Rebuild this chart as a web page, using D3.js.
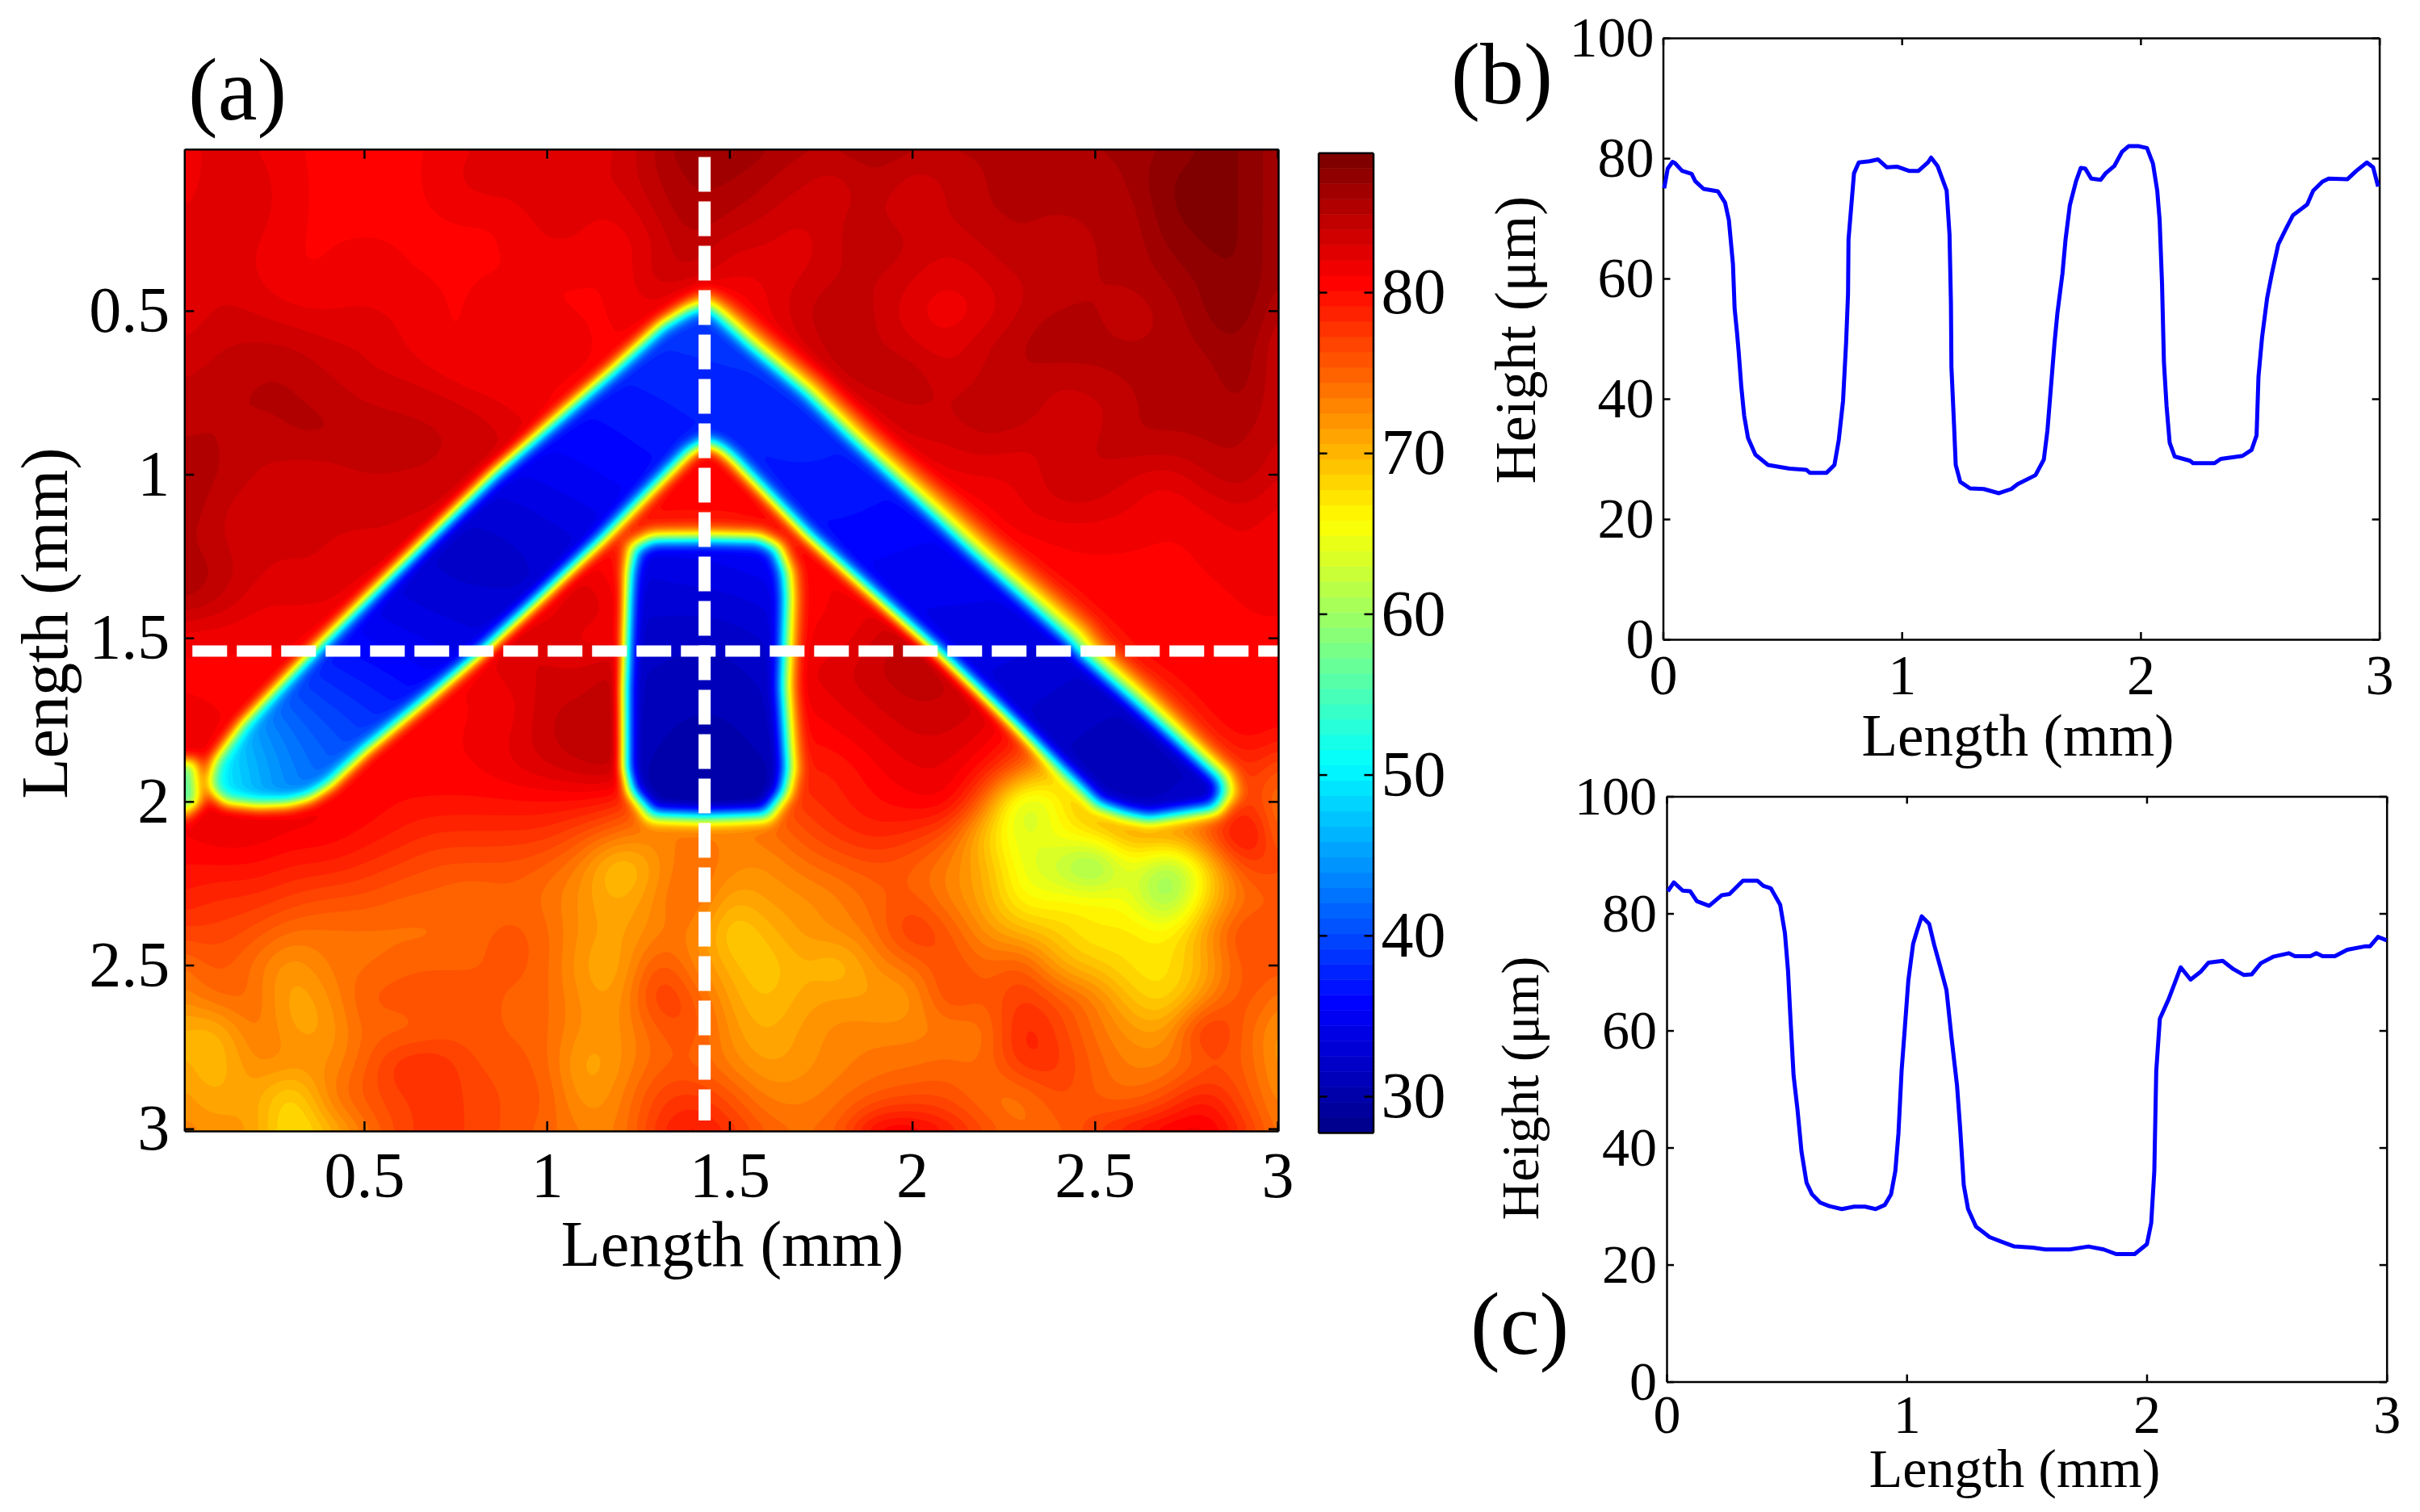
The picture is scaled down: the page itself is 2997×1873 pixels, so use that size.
<!DOCTYPE html>
<html>
<head>
<meta charset="utf-8">
<script src="https://cdn.jsdelivr.net/npm/d3@7"></script>
<style>
  body { margin: 0; background: #fff; }
  svg { display: block; font-family: "Liberation Serif", serif; }
  .axis text { fill: #000; }
  .axis line, .axis path { stroke: #000; stroke-width: 2.5px; }
</style>
</head>
<body>
<svg id="chart" width="2997" height="1873"></svg>
<script>
// HEIGHT MAP, top surface in um, rows y = 0..3 mm, columns x = 0..3 mm, 0.1 mm apart
var heightGrid = [
  [81,83,82,81,81,81,81,81,82,83, 82,82,83,85,87,87,86,85,85,86, 85,85,85,85,85,86,86,87,88,88,86],
  [81,83,83,81,81,81,81,81,83,83, 83,83,83,85,86,86,85,84,83,85, 83,84,85,85,85,85,86,88,88,88,86],
  [82,83,83,81,81,81,81,81,81,81, 83,82,82,84,86,85,84,83,84,84, 83,84,85,85,85,85,85,88,88,88,86],
  [83,83,82,81,81,81,81,81,81,81, 82,82,81,83,85,83,83,82,84,85, 84,83,84,85,84,85,85,87,88,88,86],
  [83,83,82,81,81,82,81,81,81,81, 81,81,81,84,84,82,82,83,84,84, 83,82,83,84,84,85,85,86,87,88,86],
  [82,83,83,82,82,82,82,81,81,82, 81,81,81,82,78,79,82,84,85,84, 82,81,82,84,85,85,84,85,87,88,85],
  [83,84,84,84,83,83,82,81,81,82, 82,81,81,81,80,80,81,83,85,84, 83,82,84,85,86,85,85,85,86,87,84],
  [84,84,85,85,84,83,83,82,81,81, 81,81,81,81,81,81,80,82,84,85, 85,83,84,85,84,85,85,85,85,87,84],
  [84,85,85,85,85,84,84,84,83,82, 81,81,81,81,81,81,81,80,82,83, 84,84,85,85,83,83,85,85,85,86,84],
  [85,85,84,85,85,85,84,84,84,83, 82,81,81,81,81,81,81,81,80,82, 83,83,84,83,83,84,85,85,85,85,84],
  [86,85,84,83,83,84,84,84,83,82, 81,81,81,81,81,81,81,81,81,80, 81,82,82,82,84,84,83,82,84,85,83],
  [86,84,83,83,83,83,83,83,82,82, 81,81,81,81,81,81,81,81,81,81, 79,80,81,82,83,83,82,81,82,83,82],
  [85,84,83,83,83,83,83,82,81,81, 81,81,80,77,77,77,80,81,81,81, 81,79,80,81,81,81,81,81,81,82,81],
  [86,85,83,83,83,82,82,81,81,81, 81,82,80,77,77,77,80,81,81,81, 81,81,79,79,81,81,81,81,81,82,82],
  [85,84,82,82,82,81,81,81,81,81, 81,84,81,81,81,81,81,81,81,82, 82,82,79,77,78,81,81,81,80,81,81],
  [81,81,81,81,81,81,81,81,81,83, 83,81,81,81,81,81,81,81,81,83, 85,83,80,77,75,78,81,81,81,81,81],
  [81,81,81,81,81,81,81,81,81,83, 83,83,85,81,81,81,81,82,83,84, 85,84,83,81,78,74,79,81,81,81,81],
  [81,81,81,81,81,81,81,81,81,81, 84,84,85,81,81,81,81,81,82,83, 84,84,83,82,78,73,70,78,81,81,81],
  [82,81,81,81,81,81,81,81,81,82, 84,85,85,81,81,81,81,80,81,82, 83,83,82,79,76,72,71,71,79,81,80],
  [82,81,81,81,81,81,81,81,81,82, 83,84,85,81,81,81,81,79,79,81, 82,82,80,76,68,71,73,71,72,79,76],
  [82,82,82,82,81,81,80,80,80,80, 80,80,79,74,72,72,75,78,79,80, 81,82,75,59,66,72,72,71,71,78,74],
  [81,82,82,81,81,80,79,78,78,78, 78,76,74,73,74,73,74,76,78,79, 78,76,68,63,66,68,72,73,76,84,75],
  [80,80,80,79,79,78,77,76,76,76, 75,73,67,72,75,73,72,74,75,76, 75,73,71,64,62,55,66,57,66,77,77],
  [79,78,78,77,76,76,75,75,74,75, 74,72,70,73,76,70,72,72,73,75, 76,73,71,65,66,67,65,57,68,74,75],
  [77,77,76,74,74,74,74,74,75,76, 75,72,71,73,74,67,70,72,73,74, 79,76,72,70,69,66,68,66,72,78,76],
  [74,76,74,71,74,74,75,75,75,76, 75,71,70,77,73,70,68,71,68,73, 74,77,74,77,70,69,67,67,70,76,76],
  [73,75,75,70,72,76,76,77,76,75, 75,72,71,79,76,71,69,71,72,71, 71,78,75,78,76,74,69,67,72,77,74],
  [70,69,75,71,71,75,74,75,76,75, 75,72,72,75,77,72,70,72,73,73, 73,73,73,80,77,74,72,71,81,75,72],
  [71,69,73,73,72,75,79,79,76,76, 75,70,72,75,75,73,71,72,73,74, 74,75,74,79,78,75,73,73,75,76,72],
  [72,70,72,66,74,76,77,78,77,76, 76,71,73,77,78,76,73,73,74,75, 76,76,74,73,77,75,74,76,80,76,73],
  [73,72,72,66,70,74,77,78,77,76, 75,73,73,78,80,78,75,74,75,81, 81,79,76,74,75,77,79,81,82,78,74]
];

// FLOOR of the etched patterns in um, x = 0..3 mm every 0.25, y = 0.5..2.25 mm every 0.25
var floorGrid = [
  [39,39,39,39,39,39,39,39,39,39,39,39,39],
  [39,39,39,39,36,37,38,38,37,37,37,37,37],
  [36,36,35,33,35,36,37,37.5,36.5,36,36,36,36],
  [35,34,33,31,32,34,35,36,35,35,35,35,35],
  [38,37,35,34,33,32,31,34,34,34,33,33,33],
  [55,42,39,36,33,31,30,33,33,33,31,31,31],
  [55,44,41,38,34,30,29,31,31,31,31,32,32],
  [55,44,41,38,34,30,29,31,31,31,31,32,32]
];

// OUTLINES of the patterns in mm, with the width of the outer slope at each point
var chevronEdge = [
  [1.434,.4815],[1.461,.50],[1.567,.608],[1.713,.745],[1.837,.883],[2.164,1.228],[2.435,1.504],
  [2.469,1.549],[2.80,1.885],[2.845,1.93],[2.855,1.97],[2.829,2.021],[2.648,2.052],[2.582,2.037],[2.509,2.008],
  [2.458,1.951],[2.084,1.556],[1.713,1.185],[1.505,.947],[1.47,.916],[1.434,.903],[1.392,.929],
  [1.251,1.086],[1.152,1.199],[.827,1.54],[.659,1.70],[.504,1.845],[.405,1.951],[.35,1.99],[.29,2.008],
  [.208,2.013],[.12,2.005],[.085,1.975],[.074,1.939],[.088,1.877],[.166,1.763],[.363,1.54],[.673,1.199],
  [.856,.998],[1.18,.683],[1.314,.5445],[1.39,.495]
];
var chevronSlope = [
  .07,.07,.09,.10,.10,.11,.11,
  .10,.07,.07,.07,.05,.04,.04,.04,
  .035,.035,.035,.04,.04,.04,.04,
  .04,.035,.03,.035,.035,.035,.035,.035,
  .035,.03,.03,.03,.03,.03,.035,.035,
  .035,.04,.04,.05
];
var windowEdge = [
  [1.225,1.30],[1.24,1.225],[1.29,1.197],[1.434,1.195],[1.58,1.197],[1.63,1.225],[1.655,1.30],[1.66,1.376],[1.65,1.65],[1.662,1.9],
  [1.65,1.97],[1.60,2.04],[1.434,2.045],[1.29,2.04],[1.23,1.97],[1.212,1.9],[1.211,1.65],[1.22,1.376]
];
var windowSlope = [.03,.05,.05,.05,.05,.05,.06,.06,.06,.06,.05,.05,.05,.05,.03,.018,.018,.018];
var notchEdge = [[-.02,1.87],[.04,1.88],[.05,2.0],[-.02,2.07]];
var notchSlope = [.03,.03,.03,.03];

// TICKS AND CUT LINES
var mapTicks = [0.5, 1, 1.5, 2, 2.5, 3];
var barTicks = [30, 40, 50, 60, 70, 80];
var profileXTicks = [0, 1, 2, 3];
var profileYTicks = [0, 20, 40, 60, 80, 100];
var cutX = 1.432;
var cutY = 1.54;

// PROFILES, [length mm, height um]
var profileB = [[.005,75],[.02,78.3],[.04,79.4],[.05,79.2],[.08,77.9],[.12,77.4],[.135,76.2],[.17,74.9],[.23,74.5],[.26,72.6],[.276,69.7],[.293,62.4],[.30,55],[.31,51],[.317,47.8],[.328,42],[.34,37.2],[.356,33.5],[.387,30.7],[.44,29],[.53,28.4],[.60,28.2],[.615,27.7],[.685,27.7],[.718,29],[.736,33.1],[.754,39.6],[.767,49.4],[.775,57.5],[.777,66.5],[.80,77.5],[.82,79.3],[.865,79.5],[.90,79.8],[.937,78.5],[.98,78.6],[1.03,77.9],[1.07,77.9],[1.11,79.3],[1.123,80.1],[1.15,78.7],[1.188,74.6],[1.20,67.3],[1.206,55.9],[1.208,45.3],[1.219,35.6],[1.226,29],[1.245,26.2],[1.286,25.1],[1.343,25],[1.407,24.3],[1.459,25],[1.485,25.8],[1.56,27.3],[1.595,29.9],[1.61,34.7],[1.63,44.5],[1.64,49.4],[1.652,54.3],[1.673,60.8],[1.686,66.5],[1.704,72.2],[1.73,76.2],[1.75,78.4],[1.768,78.3],[1.794,76.6],[1.833,76.4],[1.854,77.5],[1.89,78.7],[1.923,81.1],[1.95,82],[1.993,82],[2.027,81.7],[2.052,79.1],[2.07,74.6],[2.08,69.7],[2.09,59.2],[2.098,46.1],[2.109,38.8],[2.122,32.7],[2.143,30.4],[2.207,29.7],[2.22,29.3],[2.31,29.3],[2.336,30],[2.427,30.5],[2.465,31.5],[2.486,33.9],[2.494,43.7],[2.509,50.2],[2.53,56.7],[2.55,60.8],[2.577,65.7],[2.607,68.1],[2.638,70.5],[2.698,72.3],[2.723,74.6],[2.762,76.1],[2.788,76.6],[2.866,76.5],[2.904,77.9],[2.948,79.3],[2.974,78.5],[2.995,75.3]];
var profileC = [[.005,83.8],[.03,85.3],[.067,83.9],[.098,83.8],[.126,82.1],[.177,81.3],[.229,83.1],[.262,83.3],[.318,85.6],[.378,85.6],[.403,84.7],[.434,84.3],[.473,81.5],[.493,76.6],[.506,70.1],[.516,62],[.529,52.3],[.545,46.6],[.562,39.3],[.583,34],[.606,32],[.64,30.6],[.678,30],[.73,29.5],[.781,29.9],[.827,29.9],[.871,29.5],[.909,30.2],[.935,32],[.953,36],[.966,42.5],[.979,53.1],[.991,59.6],[1.007,68.5],[1.027,74.8],[1.043,77],[1.063,79.5],[1.094,78.2],[1.115,74.6],[1.14,70.9],[1.166,66.9],[1.187,58.8],[1.21,50.6],[1.223,43.3],[1.238,33.6],[1.256,29.5],[1.289,26.5],[1.346,24.7],[1.397,23.9],[1.449,23.1],[1.526,22.9],[1.577,22.6],[1.68,22.6],[1.757,23.1],[1.821,22.6],[1.873,21.8],[1.95,21.8],[2.001,23.5],[2.019,27.1],[2.032,36],[2.04,53.1],[2.055,62],[2.091,65.3],[2.117,68.1],[2.142,70.8],[2.183,68.7],[2.224,70],[2.258,71.6],[2.317,71.9],[2.361,70.5],[2.404,69.5],[2.438,69.6],[2.476,71.5],[2.527,72.6],[2.592,73.2],[2.618,72.7],[2.682,72.7],[2.707,73.2],[2.733,72.7],[2.784,72.7],[2.836,73.8],[2.913,74.4],[2.931,74.4],[2.964,76],[3,75.4]];

var svg = d3.select("#chart");

// draws the four sided matlab box with inward ticks
function drawBox(x, y, xTicks, yTicks, fontSize, padX, padY, tick) {
  var x0 = x.range()[0], x1 = x.range()[1], y0 = y.range()[0], y1 = y.range()[1];
  function add(axis, tx, ty) {
    svg.append("g").attr("class", "axis")
      .attr("transform", "translate(" + tx + "," + ty + ")")
      .call(axis)
      .attr("font-family", null)
      .attr("font-size", fontSize);
  }
  add(d3.axisBottom(x).tickValues(xTicks).tickSizeInner(-tick).tickSizeOuter(0).tickPadding(padY).tickFormat(d3.format("")), 0, y0);
  add(d3.axisTop(x).tickValues(xTicks).tickSizeInner(-tick).tickSizeOuter(0).tickFormat(""), 0, y1);
  add(d3.axisLeft(y).tickValues(yTicks).tickSizeInner(-tick).tickSizeOuter(0).tickPadding(padX).tickFormat(d3.format("")), x0, 0);
  add(d3.axisRight(y).tickValues(yTicks).tickSizeInner(-tick).tickSizeOuter(0).tickFormat(""), x1, 0);
}

function addText(str, tx, ty, size, anchor, rotate) {
  svg.append("text")
    .attr("transform", "translate(" + tx + "," + ty + ")" + (rotate ? " rotate(-90)" : ""))
    .attr("text-anchor", anchor || "start")
    .attr("font-size", size)
    .text(str);
}

// COLOUR SCALE, jet with 64 levels
var barMin = 27.74, barMax = 88.67;
var jet = d3.scaleLinear()
  .domain([0, .125, .375, .625, .875, 1])
  .range(["#00008f", "#0000ff", "#00ffff", "#ffff00", "#ff0000", "#800000"]);
var jetLevels = d3.range(64).map(function (i) { return jet(i / 63); });
var heatColor = d3.scaleQuantize().domain([barMin, barMax]).range(jetLevels);

// MAP
var mapX = d3.scaleLinear().domain([.008, 3.002]).range([228.3, 1583]);
var mapY = d3.scaleLinear().domain([3.007, .006]).range([1401, 184.7]);

var n = 300, m = 270;
var gridX = d3.scaleLinear().domain([0, n]).range(mapX.domain());
var gridY = d3.scaleLinear().domain([0, m]).range([mapY.domain()[1], mapY.domain()[0]]);

function sampleGrid(grid, tX, tY) {
  var rows = grid.map(d3.interpolateBasis);
  var out = new Float64Array(n * m);
  for (var i = 0; i < n; i++) {
    var col = d3.interpolateBasis(rows.map(function (f) { return f(tX(gridX(i + .5))); }));
    for (var j = 0; j < m; j++) out[i + j * n] = col(tY(gridY(j + .5)));
  }
  return out;
}

var topField = sampleGrid(heightGrid,
  d3.scaleLinear().domain([0, 3]).range([0, 1]).clamp(true),
  d3.scaleLinear().domain([0, 3]).range([0, 1]).clamp(true));
var floorField = sampleGrid(floorGrid,
  d3.scaleLinear().domain([0, 3]).range([0, 1]).clamp(true),
  d3.scaleLinear().domain([.5, 2.25]).range([0, 1]).clamp(true));

// nearest segment of an outline, returns distance in mm and slope width there
function nearestEdge(edge, slope, px, py) {
  var best = Infinity, bestW = 0;
  for (var k = 0; k < edge.length; k++) {
    var a = edge[k], b = edge[(k + 1) % edge.length];
    var dx = b[0] - a[0], dy = b[1] - a[1];
    var t = ((px - a[0]) * dx + (py - a[1]) * dy) / (dx * dx + dy * dy);
    t = t < 0 ? 0 : t > 1 ? 1 : t;
    var ex = a[0] + t * dx - px, ey = a[1] + t * dy - py;
    var dist = ex * ex + ey * ey;
    if (dist < best) {
      best = dist;
      bestW = slope[k] + t * (slope[(k + 1) % edge.length] - slope[k]);
    }
  }
  return [Math.sqrt(best), bestW];
}

// carve the patterns into the top surface
var inSlope = .04;
var heights = Float64Array.from(topField);
[[chevronEdge, chevronSlope], [windowEdge, windowSlope], [notchEdge, notchSlope]].forEach(function (shape) {
  for (var j = 0; j < m; j++) {
    for (var i = 0; i < n; i++) {
      var px = gridX(i + .5), py = gridY(j + .5);
      var near = nearestEdge(shape[0], shape[1], px, py);
      var inside = d3.polygonContains(shape[0], [px, py]);
      var s;
      if (inside) {
        s = near[0] >= inSlope ? 0 : .5 * Math.pow(1 - near[0] / inSlope, 2);
      } else {
        s = near[0] >= near[1] ? 1 : 1 - .5 * Math.pow(1 - near[0] / near[1], 2);
      }
      var idx = i + j * n;
      heights[idx] = floorField[idx] + (heights[idx] - floorField[idx]) * s;
    }
  }
});
// the scan is slightly soft, so round the carved corners off
if (d3.blur2) d3.blur2({data: heights, width: n, height: m}, 1);

var levelEdges = d3.range(1, 64).map(function (i) { return barMin + i * (barMax - barMin) / 64; });
var contours = d3.contours().size([n, m]).thresholds(levelEdges)(Array.from(heights));
var contourPath = d3.geoPath(d3.geoTransform({
  point: function (a, b) { this.stream.point(mapX(gridX(a)), mapY(gridY(b))); }
}));

svg.append("defs").append("clipPath").attr("id", "mapClip").append("rect")
  .attr("x", mapX(.008)).attr("y", mapY(.006))
  .attr("width", mapX(3.002) - mapX(.008)).attr("height", mapY(3.007) - mapY(.006));

var mapG = svg.append("g").attr("clip-path", "url(#mapClip)");
mapG.append("rect")
  .attr("x", mapX(.008)).attr("y", mapY(.006))
  .attr("width", mapX(3.002) - mapX(.008)).attr("height", mapY(3.007) - mapY(.006))
  .attr("fill", jetLevels[0]);
mapG.selectAll("path.level").data(contours).enter().append("path")
  .attr("class", "level")
  .attr("d", contourPath)
  .attr("fill", function (d) { return heatColor(d.value + .01); });

// dashed cuts
mapG.append("line")
  .attr("x1", mapX(cutX)).attr("x2", mapX(cutX))
  .attr("y1", mapY(.03)).attr("y2", mapY(2.975))
  .attr("stroke", "#fff").attr("stroke-width", 15).attr("stroke-dasharray", "43 12");
mapG.append("line")
  .attr("x1", mapX(.03)).attr("x2", mapX(3.002))
  .attr("y1", mapY(cutY)).attr("y2", mapY(cutY))
  .attr("stroke", "#fff").attr("stroke-width", 14).attr("stroke-dasharray", "43 12");

drawBox(mapX, mapY, mapTicks, mapTicks, 80, 18, 25, 12);
addText("(a)", 233, 148, 110);
addText("Length (mm)", 907, 1568, 80, "middle");
addText("Length (mm)", 83, 772, 82, "middle", true);

// COLOUR BAR
var barY = d3.scaleLinear().domain([barMin, barMax]).range([1403, 189.3]);
var barX = d3.scaleLinear().domain([0, 1]).range([1632.6, 1700.5]);
var levelTops = d3.range(64);
svg.append("g").selectAll("rect").data(levelTops).enter().append("rect")
  .attr("x", barX(0))
  .attr("width", barX(1) - barX(0))
  .attr("y", function (i) { return barY(barMin + (i + 1) * (barMax - barMin) / 64); })
  .attr("height", (barY(barMin) - barY(barMax)) / 64 + .5)
  .attr("fill", function (i) { return jetLevels[i]; });
svg.append("g").attr("class", "axis")
  .attr("transform", "translate(" + barX(1) + ",0)")
  .call(d3.axisRight(barY).tickValues(barTicks).tickSizeInner(-11).tickSizeOuter(0).tickPadding(10))
  .attr("font-family", null).attr("font-size", 80);
svg.append("g").attr("class", "axis")
  .attr("transform", "translate(" + barX(0) + ",0)")
  .call(d3.axisLeft(barY).tickValues(barTicks).tickSizeInner(-11).tickSizeOuter(0).tickFormat(""));
svg.append("g").attr("class", "axis")
  .attr("transform", "translate(0," + barY(barMax) + ")")
  .call(d3.axisTop(barX).tickValues([]).tickSizeOuter(0));
svg.append("g").attr("class", "axis")
  .attr("transform", "translate(0," + barY(barMin) + ")")
  .call(d3.axisBottom(barX).tickValues([]).tickSizeOuter(0));

// PROFILES
function drawProfile(points, left, right, top, bottom, fontSize, padX, padY) {
  var x = d3.scaleLinear().domain([0, 3]).range([left, right]);
  var y = d3.scaleLinear().domain([0, 100]).range([bottom, top]);
  drawBox(x, y, profileXTicks, profileYTicks, fontSize, padX, padY, 9);
  svg.append("path")
    .datum(points)
    .attr("fill", "none")
    .attr("stroke", "#0000ff")
    .attr("stroke-width", 5)
    .attr("stroke-linejoin", "round")
    .attr("d", d3.line().x(function (d) { return x(d[0]); }).y(function (d) { return y(d[1]); }));
}

drawProfile(profileB, 2059.5, 2946.6, 47, 792, 70, 11, 18);
addText("(b)", 1797, 128, 108);
addText("Length (mm)", 2499, 936, 73, "middle");
addText("Height (μm)", 1901, 421, 72, "middle", true);

drawProfile(profileC, 2064, 2955.7, 986.5, 1711.6, 68, 12, 15);
addText("(c)", 1821, 1677, 110);
addText("Length (mm)", 2495, 1842, 68, "middle");
addText("Height (μm)", 1905, 1348, 66, "middle", true);
</script>
</body>
</html>
